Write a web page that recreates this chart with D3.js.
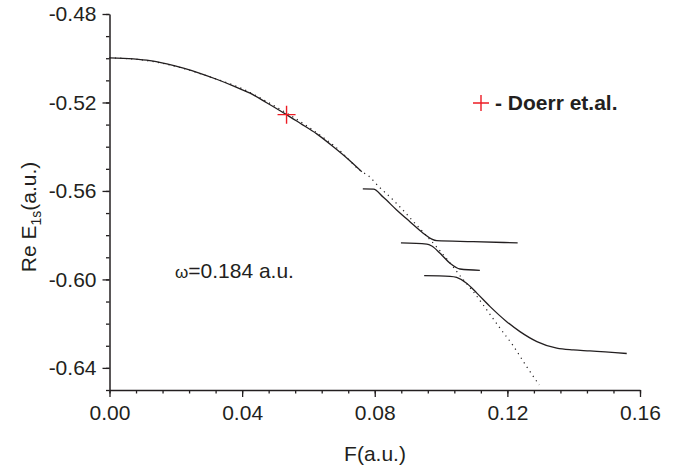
<!DOCTYPE html>
<html>
<head>
<meta charset="utf-8">
<script src="https://cdnjs.cloudflare.com/ajax/libs/d3/7.8.5/d3.min.js"></script>
<style>
  body { margin: 0; background: #fff; }
  text { font-family: "Liberation Sans", Arial, sans-serif; fill: #231f20; }
</style>
</head>
<body>
<div id="container"></div>
<script>
// values
const mainF = [0, 0.0072, 0.0122, 0.0173, 0.0223, 0.0273, 0.0323, 0.0373, 0.0424, 0.0474, 0.0534, 0.0575, 0.0625, 0.0675, 0.0725, 0.0761];
const mainE = [-0.4998, -0.5003, -0.5011, -0.5026, -0.5045, -0.5068, -0.5095, -0.5125, -0.5158, -0.5201, -0.5255, -0.5294, -0.5342, -0.5400, -0.5463, -0.5513];

const dotF = [0, 0.01, 0.02, 0.03, 0.04, 0.05, 0.06, 0.07, 0.0756, 0.0781, 0.0814, 0.0848, 0.0881, 0.0912, 0.0942, 0.0990, 0.1032, 0.1059, 0.1097, 0.1138, 0.1178, 0.1218, 0.1258, 0.1296];
const dotE = [-0.4998, -0.5008, -0.5037, -0.5083, -0.5138, -0.5218, -0.5311, -0.5425, -0.5508, -0.5532, -0.5583, -0.5630, -0.5680, -0.5731, -0.5780, -0.5859, -0.5935, -0.5987, -0.6055, -0.6138, -0.6221, -0.6301, -0.6394, -0.6477];

const seg2F = [0.0764, 0.0796, 0.0826, 0.0866, 0.0906, 0.0946, 0.0972, 0.0987, 0.1097, 0.1231];
const seg2E = [-0.5591, -0.5592, -0.5629, -0.5686, -0.5739, -0.5791, -0.5818, -0.5825, -0.5829, -0.5835];

const seg3F = [0.0879, 0.0957, 0.0972, 0.0997, 0.1027, 0.1057, 0.1117];
const seg3E = [-0.5835, -0.5840, -0.5849, -0.5882, -0.5927, -0.5953, -0.5959];

const seg4F = [0.0949, 0.1027, 0.1047, 0.1077, 0.1108, 0.1148, 0.1198, 0.1238, 0.1289, 0.1349, 0.1399, 0.1449, 0.1560];
const seg4E = [-0.5983, -0.5986, -0.5991, -0.6017, -0.6062, -0.6123, -0.6191, -0.6236, -0.6281, -0.6311, -0.6319, -0.6323, -0.6335];

const doerrF = [0.0534];
const doerrE = [-0.5255];

const xMajor = [0, 0.04, 0.08, 0.12, 0.16];
const yMajor = [-0.48, -0.52, -0.56, -0.60, -0.64];

const W = 686, H = 467;
const svg = d3.select('#container').append('svg')
    .attr('width', W).attr('height', H);

const x = d3.scaleLinear().domain([0, 0.16]).range([109.5, 640]);
const y = d3.scaleLinear().domain([-0.65, -0.48]).range([390, 14]);

const xMinor = d3.range(0, 21).map(i => i * 0.008);
const yMinor = d3.range(0, 18).map(i => -0.65 + i * 0.01);

// plain hyphen instead of d3's unicode minus
const fmt = d => d3.format('.2f')(d).replace('\u2212', '-');

// minor ticks
svg.append('g')
    .attr('transform', 'translate(0,' + y(-0.65) + ')')
    .call(d3.axisBottom(x).tickValues(xMinor).tickSize(3.5).tickFormat(''))
    .call(g => g.select('.domain').remove());
svg.append('g')
    .attr('transform', 'translate(' + x(0) + ',0)')
    .call(d3.axisLeft(y).tickValues(yMinor).tickSize(3.5).tickFormat(''))
    .call(g => g.select('.domain').remove());

// major axes
svg.append('g')
    .attr('transform', 'translate(0,' + y(-0.65) + ')')
    .call(d3.axisBottom(x).tickValues(xMajor).tickSize(7).tickPadding(8).tickSizeOuter(0).tickFormat(fmt));
svg.append('g')
    .attr('transform', 'translate(' + x(0) + ',0)')
    .call(d3.axisLeft(y).tickValues(yMajor).tickSize(7).tickPadding(6).tickSizeOuter(0).tickFormat(fmt));

svg.selectAll('.tick line').attr('stroke', '#231f20').attr('stroke-width', 1.3);
svg.selectAll('.domain').attr('stroke', '#231f20').attr('stroke-width', 1.5);
svg.selectAll('.tick text')
    .style('font-family', '"Liberation Sans", Arial, sans-serif')
    .style('font-size', '21px')
    .attr('fill', '#231f20');

// axis titles
svg.append('text')
    .attr('x', 375).attr('y', 461)
    .attr('text-anchor', 'middle')
    .style('font-size', '21px')
    .text('F(a.u.)');

const yt = svg.append('text')
    .attr('transform', 'translate(36,217) rotate(-90)')
    .attr('text-anchor', 'middle')
    .style('font-size', '21px');
yt.append('tspan').text('Re E');
yt.append('tspan').attr('dy', 5).style('font-size', '14px').text('1s');
yt.append('tspan').attr('dy', -5).text('(a.u.)');

// curves
const line = d3.line()
    .x(d => x(d[0]))
    .y(d => y(d[1]))
    .curve(d3.curveMonotoneX);

const zip = (a, b) => a.map((v, i) => [v, b[i]]);

svg.append('path')
    .datum(zip(dotF, dotE))
    .attr('d', line)
    .attr('fill', 'none')
    .attr('stroke', '#231f20')
    .attr('stroke-width', 1.2)
    .attr('stroke-dasharray', '1.2,4.2');

[[mainF, mainE], [seg2F, seg2E], [seg3F, seg3E], [seg4F, seg4E]].forEach(function (s) {
    svg.append('path')
        .datum(zip(s[0], s[1]))
        .attr('d', line)
        .attr('fill', 'none')
        .attr('stroke', '#231f20')
        .attr('stroke-width', 1.3);
});

// Doerr et al. point
const cross = 'M-9,0H9M0,-9V9';
svg.selectAll('.doerr')
    .data(zip(doerrF, doerrE))
    .enter()
    .append('path')
    .attr('class', 'doerr')
    .attr('transform', d => 'translate(' + x(d[0]) + ',' + y(d[1]) + ')')
    .attr('d', cross)
    .attr('fill', 'none')
    .attr('stroke', '#ed1c24')
    .attr('stroke-width', 1.4);

// legend
svg.append('path')
    .attr('transform', 'translate(481,103)')
    .attr('d', 'M-8,0H8M0,-8V8')
    .attr('fill', 'none')
    .attr('stroke', '#ed1c24')
    .attr('stroke-width', 1.4);
svg.append('text')
    .attr('x', 495).attr('y', 110)
    .style('font-size', '21px')
    .style('font-weight', 'bold')
    .text('- Doerr et.al.');

// annotation
const om = svg.append('text')
    .attr('x', 175).attr('y', 278)
    .style('font-size', '21px');
om.append('tspan').style('font-size', '17px').text('ω');
om.append('tspan').text('=0.184 a.u.');
</script>
</body>
</html>
